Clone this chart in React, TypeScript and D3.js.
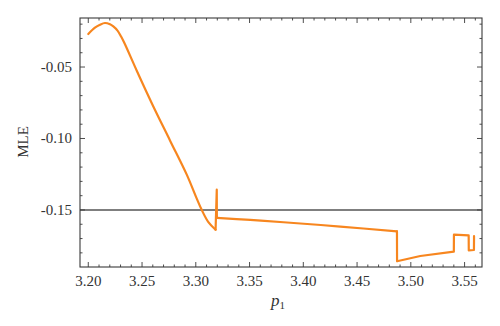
import React from 'react'
import * as d3 from 'd3'

const width = 500
const height = 326
const margin = {top: 18, right: 18, bottom: 59, left: 80}

// p1 values and MLE values
const p1 = [3.2000, 3.2062, 3.2109, 3.2155, 3.2202, 3.2233, 3.2272, 3.2304, 3.2337, 3.2451,
  3.2605, 3.2761, 3.2916, 3.3009, 3.3056, 3.3117, 3.3184, 3.3195, 3.3196, 3.3506,
  3.3816, 3.4344, 3.4871, 3.4872, 3.5088, 3.5400, 3.5401, 3.5538, 3.5539, 3.5587, 3.5588]
const mle = [-0.0269, -0.0225, -0.0204, -0.0192, -0.0201, -0.0216, -0.0245, -0.0285, -0.0334, -0.0526,
  -0.0776, -0.1015, -0.1253, -0.1421, -0.1501, -0.1585, -0.1638, -0.1358, -0.1556, -0.1569,
  -0.1586, -0.1616, -0.1650, -0.1859, -0.1822, -0.1792, -0.1673, -0.1678, -0.1783, -0.1780, -0.1683]

// pieces: smooth ones are curved, jumps are straight
const pieces: [number, number, boolean][] = [[0, 16, true], [16, 18, false], [18, 22, true], [22, 30, false]]

const refLine = -0.15
const xTicks = [3.20, 3.25, 3.30, 3.35, 3.40, 3.45, 3.50, 3.55]
const yTicks = [-0.05, -0.10, -0.15]

export default function App() {
  const x = d3.scaleLinear()
    .domain([3.1923, 3.5662])
    .range([margin.left, width - margin.right])
  const y = d3.scaleLinear()
    .domain([-0.1899, -0.0157])
    .range([height - margin.bottom, margin.top])

  const x0 = margin.left, x1 = width - margin.right
  const y0 = height - margin.bottom, y1 = margin.top

  const smooth = d3.line<number>()
    .x(i => x(p1[i]))
    .y(i => y(mle[i]))
    .curve(d3.curveCatmullRom.alpha(0.5))
  const straight = d3.line<number>()
    .x(i => x(p1[i]))
    .y(i => y(mle[i]))

  // minor ticks every 0.01
  const xMinor = d3.range(320, 357).map(v => v / 100)
  const yMinor = d3.range(-18, -1).map(v => v / 100)

  const axisColor = '#3a3a3a'
  const textColor = '#333'

  return (
    <svg width={width} height={height} style={{position: 'absolute', left: 0, top: 0}}
      fontFamily='Liberation Serif, Times New Roman, serif'>
      <rect width={width} height={height} fill='white' />

      <line x1={x0} x2={x1} y1={y(refLine)} y2={y(refLine)} stroke='#555' strokeWidth={1.4} />

      {pieces.map(([a, b, curved], k) => {
        const idx = d3.range(a, b + 1)
        const d = (curved ? smooth(idx) : straight(idx)) || ''
        return <path key={'seg' + k} d={d} fill='none' stroke='#f7861f' strokeWidth={2.2}
          strokeLinejoin='round' strokeLinecap='round' />
      })}

      {/* frame */}
      <rect x={x0} y={y1} width={x1 - x0} height={y0 - y1} fill='none' stroke={axisColor} strokeWidth={1.1} />

      {xMinor.map((v, i) => {
        const major = xTicks.some(t => Math.abs(t - v) < 1e-6)
        const len = major ? 5 : 2.5
        return (
          <g key={'xm' + i} stroke={axisColor} strokeWidth={0.9}>
            <line x1={x(v)} x2={x(v)} y1={y0} y2={y0 - len} />
            <line x1={x(v)} x2={x(v)} y1={y1} y2={y1 + len} />
          </g>
        )
      })}

      {yMinor.map((v, i) => {
        const major = yTicks.some(t => Math.abs(t - v) < 1e-6)
        const len = major ? 5 : 2.5
        return (
          <g key={'ym' + i} stroke={axisColor} strokeWidth={0.9}>
            <line x1={x0} x2={x0 + len} y1={y(v)} y2={y(v)} />
            <line x1={x1} x2={x1 - len} y1={y(v)} y2={y(v)} />
          </g>
        )
      })}

      {xTicks.map(t => (
        <text key={'xt' + t} x={x(t)} y={y0 + 19} textAnchor='middle' fontSize={15} fill={textColor}>
          {t.toFixed(2)}
        </text>
      ))}

      {yTicks.map(t => (
        <text key={'yt' + t} x={x0 - 8} y={y(t)} dy='0.33em' textAnchor='end' fontSize={15} fill={textColor}>
          {t.toFixed(2)}
        </text>
      ))}

      <text x={278} y={306} textAnchor='middle' fontSize={17} fill={textColor}>
        <tspan fontStyle='italic'>p</tspan>
        <tspan fontSize={11} dy={3}>1</tspan>
      </text>

      <text transform={'translate(' + 28 + ',' + 142 + ') rotate(-90)'} textAnchor='middle'
        fontSize={15} fill={textColor}>
        MLE
      </text>
    </svg>
  )
}
